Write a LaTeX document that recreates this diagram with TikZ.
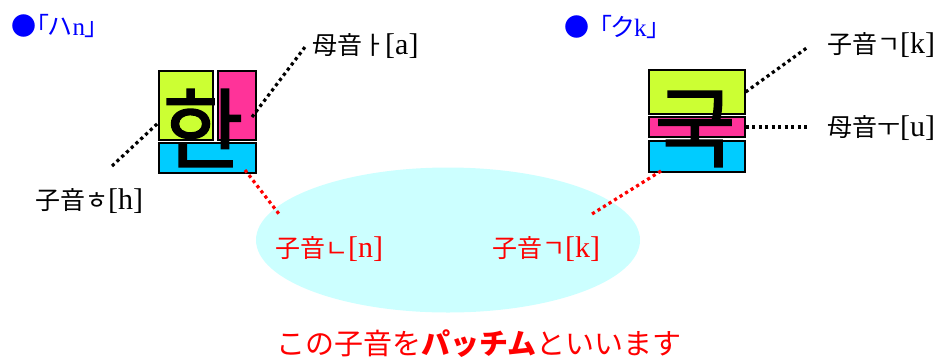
\documentclass[tikz,border=0pt]{standalone}
\usepackage{fontspec}
\setmainfont{Liberation Serif}
\newfontfamily\jpfont{Noto Sans CJK JP}
\newfontfamily\jpprop{Noto Sans CJK JP}[RawFeature=+palt]
\newfontfamily\krfont{Noto Sans CJK KR}[FakeBold=1.6]
\usetikzlibrary{shapes.geometric}

\definecolor{jamogreen}{HTML}{CCFF33}
\definecolor{jamopink}{HTML}{FF3399}
\definecolor{jamoblue}{HTML}{00CCFF}
\definecolor{padcyan}{HTML}{CCFFFF}
\definecolor{titleblue}{HTML}{0000FF}

% 子音・母音のラベル
\newcommand{\onso}[2]{{\jpfont\fontsize{25}{30}\selectfont #1}[#2]}

\tikzset{
  jamobox/.style={draw=black, line width=1.3pt, inner sep=0pt},
  bigglyph/.style={inner sep=0pt, font=\krfont\fontsize{88}{88}\selectfont},
  lbl/.style={inner sep=0pt, anchor=west, font=\fontsize{30}{30}\selectfont},
  titlelbl/.style={lbl, text=titleblue, font=\fontsize{25}{30}\selectfont},
  dotline/.style={line width=3.2pt, dash pattern=on 3.2pt off 3.3pt},
  reddot/.style={dotline, draw=red}
}

\begin{document}
\begin{tikzpicture}[x=1pt, y=-1pt]
  \useasboundingbox (0,0) rectangle (948,360);

  % パッチムの楕円
  \node[ellipse, fill=padcyan, minimum width=384, minimum height=145, inner sep=0pt] (pad) at (448,240) {};

  % 「ハn」の箱と文字
  \node[jamobox, fill=jamogreen, minimum width=54, minimum height=69] (hgreen) at (186,105.5) {};
  \node[jamobox, fill=jamopink, minimum width=38, minimum height=69] (hpink) at (237,105.5) {};
  \node[jamobox, fill=jamoblue, minimum width=97, minimum height=30] (hblue) at (207.5,158) {};
  \node[bigglyph] (han) at (203,128) {한};

  % 「クk」の箱と文字
  \node[jamobox, fill=jamogreen, minimum width=96, minimum height=44] (kgreen) at (697,92) {};
  \node[jamobox, fill=jamopink, minimum width=96, minimum height=20] (kpink) at (697,127) {};
  \node[jamobox, fill=jamoblue, minimum width=96, minimum height=31] (kblue) at (697,156.5) {};
  \node[bigglyph] (guk) at (695,129) {국};

  % 見出し
  \node[titlelbl] (hantitle) at (11,26) {{\jpprop ●「ハ}n{\jpprop 」}};
  \node[titlelbl] (guktitle) at (564,27) {{\jpprop ●\kern0.4em「ク}k{\jpprop 」}};

  % ラベル
  \node[lbl] (hlbl) at (35,201) {\onso{子音ㅎ}{h}};
  \node[lbl] (albl) at (312,46) {\onso{母音ㅏ}{a}};
  \node[lbl] (klbl) at (827,45) {\onso{子音ㄱ}{k}};
  \node[lbl] (ulbl) at (827,128) {\onso{母音ㅜ}{u}};
  \node[lbl, text=red] (nbat) at (275,249) {\onso{子音ㄴ}{n}};
  \node[lbl, text=red] (kbat) at (492,249) {\onso{子音ㄱ}{k}};

  % 点線の端
  \coordinate (hend) at (112,166);
  \coordinate (aend) at (305,47);
  \coordinate (ain) at (252,117);
  \coordinate (kend) at (808,47);
  \coordinate (uend) at (808,127);
  \coordinate (nin) at (245,170);
  \coordinate (nend) at (279,214);
  \coordinate (kin) at (661,171);
  \coordinate (kbend) at (592,214);

  % 点線
  \draw[dotline] (hend) -- (hgreen.212);
  \draw[dotline] (ain) -- (aend);
  \draw[dotline] (kgreen.east) -- (kend);
  \draw[dotline] (kpink.east) -- (uend);
  \draw[reddot] (nin) -- (nend);
  \draw[reddot] (kin) -- (kbend);

  % 下の説明
  \node[inner sep=0pt, text=red, font=\jpfont\fontsize{29}{32}\selectfont] (note) at (479,344) {この子音を{\bfseries パッチム}といいます};
\end{tikzpicture}
\end{document}
